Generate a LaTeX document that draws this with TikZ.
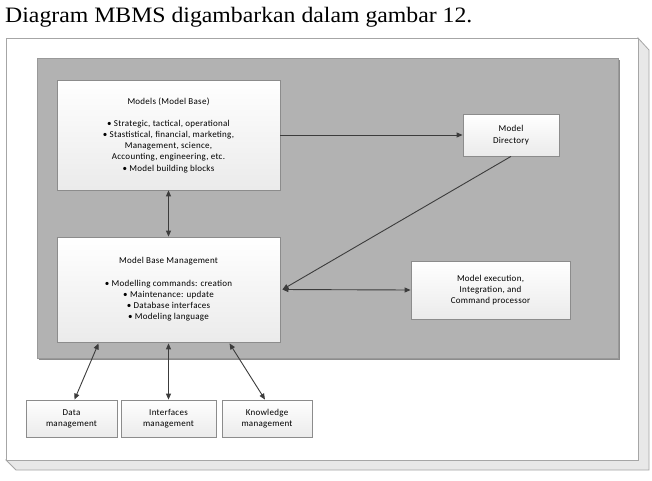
\documentclass[tikz,border=0pt]{standalone}
\usepackage{fontspec}
\setmainfont{Liberation Serif}
\newfontfamily\boxfont[LetterSpace=3]{Carlito}
\usetikzlibrary{arrows.meta,calc}
\definecolor{panelgray}{HTML}{B2B2B2}
\definecolor{framegray}{HTML}{A6A6A6}
\definecolor{depthgray}{HTML}{E8E8E8}
\definecolor{arrowgray}{HTML}{3C3C3C}
\definecolor{boxedge}{HTML}{8C8C8C}
\tikzset{
  box/.style={draw=boxedge, line width=0.8pt, top color=white, bottom color=black!8,
    align=center, inner sep=0pt, font=\boxfont\fontsize{9}{11.2}\selectfont},
  conn/.style={draw=arrowgray, line width=0.9pt, {Triangle[length=6pt,width=5pt]}-{Triangle[length=6pt,width=5pt]}},
  conn1/.style={draw=arrowgray, line width=0.9pt, -{Triangle[length=6pt,width=5pt]}},
}
\begin{document}
\begin{tikzpicture}[x=1pt,y=-1pt]
\useasboundingbox (0,0) rectangle (652,480);
\fill[white] (0,0) rectangle (652,480);
% title
\node[anchor=base west, inner sep=0pt, xscale=1.08, font=\fontsize{22}{24}\selectfont] (title) at (5,22) {Diagram MBMS digambarkan dalam gambar 12.};
% outer 3D frame
\filldraw[fill=depthgray, draw=framegray, line width=0.8pt] (638,38) -- (649,50) -- (649,470) -- (16,470) -- (6,460) -- (638,460) -- cycle;
\filldraw[fill=white, draw=framegray, line width=0.8pt] (6,38) rectangle (638,460);
% gray panel
\fill[black!45] (39,60) rectangle (620,360);
\filldraw[fill=panelgray, draw=black!40, line width=0.5pt] (37,58) rectangle (618,358);
% nodes
\node[box, minimum width=223pt, minimum height=110pt] (models) at (168.5,135)
  {Models (Model Base)\\[11pt]
   \textbullet\ Strategic, tactical, operational\\
   \textbullet\ Stastistical, financial, marketing,\\
   Management, science,\\
   Accounting, engineering, etc.\\
   \textbullet\ Model building blocks};
\node[box, minimum width=223pt, minimum height=105pt] (mbm) at (168.5,289.5)
  {Model Base Management\\[11pt]
   \textbullet\ Modelling commands: creation\\
   \textbullet\ Maintenance: update\\
   \textbullet\ Database interfaces\\
   \textbullet\ Modeling language};
\node[box, minimum width=96pt, minimum height=42pt] (dir) at (511,135) {Model\\Directory};
\node[box, minimum width=159pt, minimum height=58pt] (exec) at (490.5,290)
  {Model execution,\\Integration, and\\Command processor};
\node[box, minimum width=91pt, minimum height=37pt] (data) at (71.5,418.5) {Data\\management};
\node[box, minimum width=95pt, minimum height=37pt] (intf) at (168.5,418.5) {Interfaces\\management};
\node[box, minimum width=90pt, minimum height=37pt] (know) at (267,418.5) {Knowledge\\management};
% connectors
\draw[conn1] (models) -- (dir);
\draw[conn] (models) -- (mbm);
\draw[conn1] (dir.south) -- ($(mbm.east)+(2,0)$);
\draw[conn] ($(mbm.east)+(2,0)$) -- (exec.west);
\draw[conn] ($(mbm.south)+(-70,1)$) -- ($(data.north)+(3,0)$);
\draw[conn] ($(mbm.south)+(0,1)$) -- (intf.north);
\draw[conn] ($(mbm.south)+(61,1)$) -- ($(know.north)+(-2,0)$);
\end{tikzpicture}
\end{document}
